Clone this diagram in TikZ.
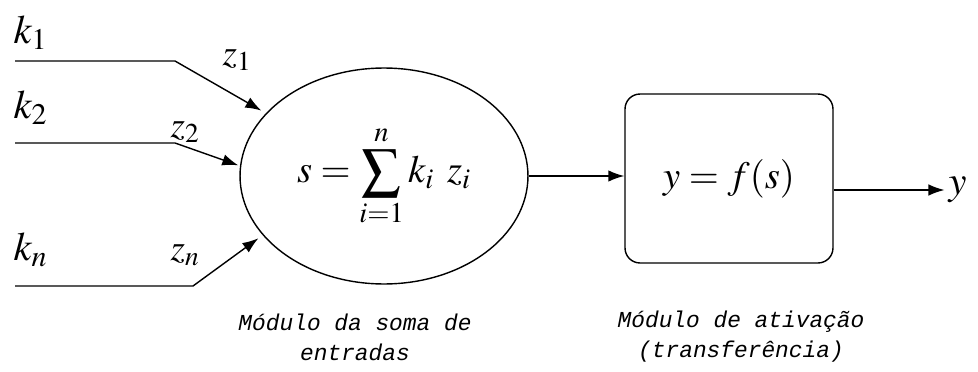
\documentclass[tikz,border=0pt]{standalone}
\usepackage{mathptmx}
\usepackage{fontspec}
\newfontfamily\capfont{Liberation Mono}
\usetikzlibrary{arrows.meta,shapes.geometric}

\begin{document}
\begin{tikzpicture}[x=0.02cm, y=-0.02cm,
  >={Latex[length=3.2mm,width=2.3mm]}, line width=0.8pt,
  lbl/.style={font=\fontsize{23}{26}\selectfont, anchor=base west, inner sep=0pt},
  wlbl/.style={font=\fontsize{21}{24}\selectfont, anchor=base west, inner sep=0pt},
  caption/.style={font=\capfont\itshape\fontsize{13}{17}\selectfont, align=center, inner sep=0pt}]
\useasboundingbox (0,0) rectangle (978,372);
% ---------------- summation module ----------------
\node[ellipse, draw, minimum width=5.76cm, minimum height=4.32cm, inner sep=0pt] (sum) at (384,176)
  {\fontsize{22}{26}\selectfont $\displaystyle s=\sum_{i=1}^{n} k_i\;\, z_i$};
% ---------------- inputs ----------------
\coordinate (k1s) at (15,61);  \coordinate (k1b) at (175,61);
\coordinate (k2s) at (15,143); \coordinate (k2b) at (175,143);
\coordinate (kns) at (15,286); \coordinate (knb) at (193,286);
\draw[->, shorten >=3pt] (k1s) -- (k1b) -- (sum.152);
\draw[->, shorten >=1pt] (k2s) -- (k2b) -- (sum.176);
\draw[->, shorten >=3pt] (kns) -- (knb) -- (sum.206);
\node[lbl] (k1) at (13,43) {$k_1$};
\node[lbl] (k2) at (13,118) {$k_2$};
\node[lbl] (kn) at (13,260) {$k_n$};
\node[wlbl] (z1) at (222,65) {$z_1$};
\node[wlbl] (z2) at (170,137) {$z_2$};
\node[wlbl] (zn) at (170,260) {$z_n$};
% ---------------- activation module ----------------
\node[draw, rounded corners=0.3cm, minimum width=4.16cm, minimum height=3.38cm] (act) at (729,178.5)
  {\fontsize{22}{26}\selectfont $y=f(s)$};
\draw[->] (sum.east) -- (sum.east -| act.west);
\node[lbl, anchor=west] (yout) at (948,190) {$y$};
\draw[->, shorten >=2pt] (act.east |- yout.west) -- (yout.west);
% captions
\node[caption] (capsum) at (355,337) {Módulo da soma de\\entradas};
\node[caption] (capact) at (741,337) {Módulo de ativação\\(transferência)};
\end{tikzpicture}
\end{document}
